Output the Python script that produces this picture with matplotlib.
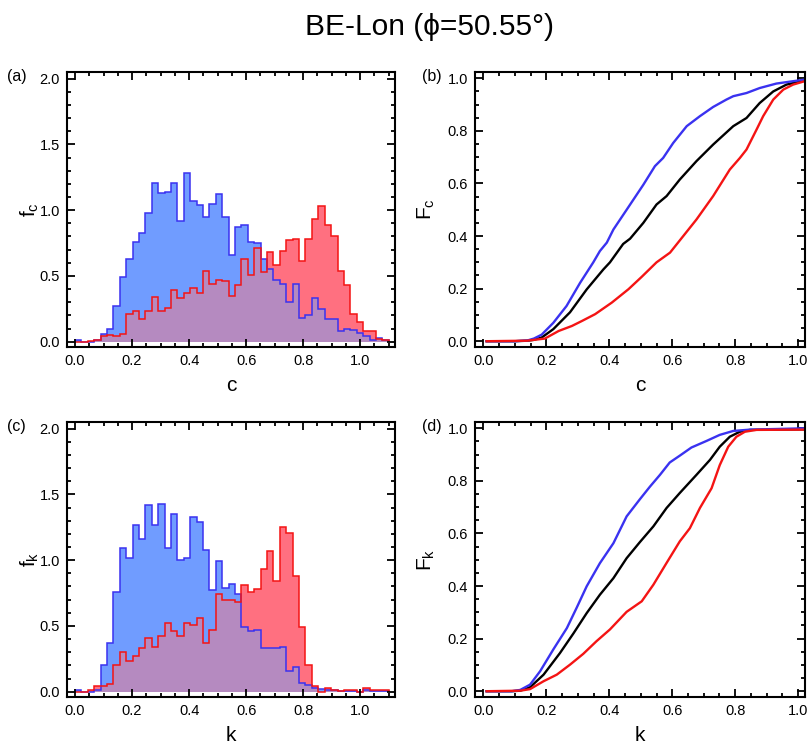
import numpy as np
import matplotlib
matplotlib.use("Agg")
from matplotlib import pyplot as plt
from matplotlib.ticker import MultipleLocator

plt.rcParams['font.family'] = ['Liberation Sans', 'DejaVu Sans']
plt.rcParams['mathtext.fontset'] = 'custom'
plt.rcParams['mathtext.rm'] = 'Liberation Sans'
plt.rcParams['mathtext.it'] = 'Liberation Sans'

# histogram bins (49 bins over 0 .. 1.1)
edges = np.linspace(0.0, 1.1, 50)

# (a) distribution of c
fc_blue = [0.01, 0.0, 0.0, 0.015, 0.06, 0.10, 0.27, 0.49, 0.63, 0.76, 0.83, 0.98,
           1.21, 1.13, 1.14, 1.21, 0.92, 1.28, 1.07, 1.04, 0.95, 1.05, 1.12, 0.95,
           0.66, 0.87, 0.89, 0.76, 0.75, 0.63, 0.55, 0.47, 0.44, 0.30, 0.44, 0.18,
           0.20, 0.33, 0.25, 0.17, 0.17, 0.08, 0.10, 0.09, 0.07, 0.04, 0.01, 0.025, 0.01]
fc_red = [0.0, 0.0, 0.005, 0.01, 0.04, 0.05, 0.04, 0.06, 0.21, 0.23, 0.17, 0.23,
          0.34, 0.23, 0.26, 0.39, 0.33, 0.37, 0.41, 0.37, 0.54, 0.44, 0.47, 0.46,
          0.35, 0.43, 0.63, 0.51, 0.71, 0.53, 0.68, 0.58, 0.69, 0.77, 0.78, 0.61,
          0.78, 0.93, 1.03, 0.89, 0.80, 0.54, 0.43, 0.21, 0.15, 0.08, 0.08, 0.02, 0.01]

# (c) distribution of k
fk_blue = [0.01, 0.0, 0.0, 0.01, 0.20, 0.37, 0.76, 1.09, 1.02, 1.27, 1.16, 1.42,
           1.27, 1.43, 1.09, 1.35, 1.00, 1.02, 1.33, 1.29, 1.08, 0.77, 0.99, 0.79,
           0.82, 0.74, 0.49, 0.46, 0.47, 0.33, 0.33, 0.33, 0.34, 0.155, 0.19, 0.07,
           0.05, 0.025, 0.02, 0.01, 0.01, 0.005, 0.005, 0.005, 0.0, 0.015, 0.005, 0.005, 0.005]
fk_red = [0.0, 0.0, 0.01, 0.04, 0.045, 0.06, 0.20, 0.30, 0.23, 0.27, 0.33, 0.41,
          0.34, 0.42, 0.52, 0.46, 0.42, 0.52, 0.51, 0.56, 0.37, 0.47, 0.74, 0.70,
          0.70, 0.68, 0.81, 0.76, 0.78, 0.93, 1.07, 0.84, 1.25, 1.21, 0.88, 0.49,
          0.20, 0.04, 0.0, 0.025, 0.01, 0.005, 0.01, 0.01, 0.0, 0.025, 0.01, 0.01, 0.01]

# (b) cumulative distributions of c
Fc_blue_x = [0.01, 0.10, 0.14, 0.16, 0.185, 0.222, 0.264, 0.307, 0.349, 0.37, 0.392, 0.413,
             0.455, 0.508, 0.545, 0.571, 0.603, 0.646, 0.688, 0.73, 0.772, 0.794, 0.836,
             0.878, 0.931, 0.984, 1.021]
Fc_blue_y = [0.0, 0.0, 0.003, 0.01, 0.025, 0.07, 0.134, 0.222, 0.30, 0.343, 0.375, 0.425,
             0.50, 0.595, 0.666, 0.697, 0.754, 0.818, 0.856, 0.891, 0.919, 0.932, 0.944,
             0.963, 0.98, 0.989, 0.995]
Fc_black_x = [0.01, 0.10, 0.14, 0.159, 0.185, 0.222, 0.275, 0.328, 0.381, 0.402, 0.444,
              0.466, 0.508, 0.55, 0.582, 0.624, 0.677, 0.73, 0.794, 0.836, 0.878, 0.921,
              0.963, 1.021]
Fc_black_y = [0.0, 0.0, 0.002, 0.005, 0.014, 0.046, 0.11, 0.197, 0.273, 0.30, 0.37,
              0.39, 0.45, 0.52, 0.552, 0.615, 0.685, 0.748, 0.818, 0.849, 0.906, 0.95,
              0.976, 0.992]
Fc_red_x = [0.01, 0.138, 0.195, 0.239, 0.281, 0.313, 0.355, 0.408, 0.461, 0.503, 0.55,
            0.593, 0.635, 0.677, 0.73, 0.783, 0.815, 0.836, 0.868, 0.889, 0.921, 0.953,
            0.984, 1.021]
Fc_red_y = [0.0, 0.002, 0.01, 0.039, 0.058, 0.077, 0.103, 0.147, 0.198, 0.245, 0.30,
            0.337, 0.40, 0.463, 0.552, 0.653, 0.697, 0.729, 0.805, 0.856, 0.919, 0.957,
            0.976, 0.989]

# (d) cumulative distributions of k
Fk_blue_x = [0.01, 0.09, 0.117, 0.148, 0.18, 0.222, 0.265, 0.296, 0.328, 0.37, 0.413,
             0.455, 0.497, 0.529, 0.561, 0.592, 0.624, 0.661, 0.709, 0.751, 0.794, 0.847, 1.021]
Fk_blue_y = [0.0, 0.0, 0.005, 0.025, 0.076, 0.159, 0.24, 0.317, 0.399, 0.487, 0.563,
             0.665, 0.73, 0.778, 0.823, 0.87, 0.896, 0.927, 0.952, 0.975, 0.99, 0.995, 1.0]
Fk_black_x = [0.01, 0.09, 0.117, 0.148, 0.191, 0.243, 0.286, 0.328, 0.37, 0.413, 0.455,
              0.497, 0.54, 0.582, 0.624, 0.677, 0.72, 0.751, 0.783, 0.815, 0.847, 1.021]
Fk_black_y = [0.0, 0.0, 0.002, 0.015, 0.063, 0.145, 0.22, 0.297, 0.367, 0.43, 0.506,
              0.567, 0.627, 0.697, 0.754, 0.823, 0.88, 0.93, 0.968, 0.987, 0.994, 0.996]
Fk_red_x = [0.01, 0.117, 0.148, 0.191, 0.233, 0.275, 0.317, 0.359, 0.402, 0.455, 0.503,
            0.54, 0.582, 0.624, 0.656, 0.688, 0.725, 0.751, 0.778, 0.804, 0.831, 0.868, 1.021]
Fk_red_y = [0.0, 0.002, 0.008, 0.038, 0.063, 0.101, 0.142, 0.19, 0.235, 0.302, 0.342,
            0.405, 0.488, 0.57, 0.62, 0.697, 0.772, 0.86, 0.93, 0.968, 0.987, 0.994, 0.995]

title = "BE-Lon (\u03d5=50.55\u00b0)"

BLUE_FILL = '#709cff'
RED_FILL = '#ff7080'
MIX_FILL = '#b58ac0'
BLUE_LINE = '#3a32f0'
RED_LINE = '#f41414'

W, H = 810, 747
fig = plt.figure(figsize=(W / 100, H / 100), dpi=100)


def rect(l, t, r, b):
    return [l / W, 1 - b / H, (r - l) / W, (b - t) / H]


def style(ax, xmaj, xmin, ymaj, ymin):
    ax.xaxis.set_major_locator(MultipleLocator(xmaj))
    ax.xaxis.set_minor_locator(MultipleLocator(xmin))
    ax.yaxis.set_major_locator(MultipleLocator(ymaj))
    ax.yaxis.set_minor_locator(MultipleLocator(ymin))
    ax.xaxis.set_major_formatter('{x:.1f}')
    ax.yaxis.set_major_formatter('{x:.1f}')
    ax.tick_params(which='both', direction='in', top=True, right=True,
                   width=1.3, labelsize=10.5, pad=5)
    ax.tick_params(which='major', length=6)
    ax.tick_params(which='minor', length=3)
    for s in ax.spines.values():
        s.set_linewidth(1.5)


def hist_panel(ax, blue, red, xl, yl):
    blue = np.array(blue)
    red = np.array(red)
    ax.stairs(blue, edges, fill=True, color=BLUE_FILL, lw=0)
    ax.stairs(red, edges, fill=True, color=RED_FILL, lw=0)
    ax.stairs(np.minimum(blue, red), edges, fill=True, color=MIX_FILL, lw=0)
    ax.stairs(blue, edges, color=BLUE_LINE, lw=1.1)
    ax.stairs(red, edges, color=RED_LINE, lw=1.1)
    ax.set_xlim(-0.028, 1.122)
    ax.set_ylim(-0.04, 2.05)
    style(ax, 0.2, 0.05, 0.5, 0.1)
    ax.set_xlabel(xl, fontsize=15)
    ax.set_ylabel(yl, fontsize=15)
    ax.xaxis.set_label_coords(0.5, -0.105)
    ax.yaxis.set_label_coords(-0.078, 0.5)


def cdf_panel(ax, curves, xl, yl):
    for xs, ys, col in curves:
        ax.plot(xs, ys, color=col, lw=1.7)
    ax.set_xlim(-0.027, 1.022)
    ax.set_ylim(-0.022, 1.024)
    style(ax, 0.2, 0.05, 0.2, 0.05)
    ax.set_xlabel(xl, fontsize=15)
    ax.set_ylabel(yl, fontsize=15)
    ax.xaxis.set_label_coords(0.5, -0.105)
    ax.yaxis.set_label_coords(-0.115, 0.5)


ax_a = fig.add_axes(rect(67, 72, 395, 347))
ax_b = fig.add_axes(rect(475, 72, 805, 347))
ax_c = fig.add_axes(rect(67, 422, 395, 697))
ax_d = fig.add_axes(rect(475, 422, 805, 697))

hist_panel(ax_a, fc_blue, fc_red, 'c', r'$\mathregular{f_c}$')
hist_panel(ax_c, fk_blue, fk_red, 'k', r'$\mathregular{f_k}$')
cdf_panel(ax_b, [(Fc_black_x, Fc_black_y, 'black'),
                 (Fc_blue_x, Fc_blue_y, BLUE_LINE),
                 (Fc_red_x, Fc_red_y, RED_LINE)], 'c', r'$\mathregular{F_c}$')
cdf_panel(ax_d, [(Fk_black_x, Fk_black_y, 'black'),
                 (Fk_blue_x, Fk_blue_y, BLUE_LINE),
                 (Fk_red_x, Fk_red_y, RED_LINE)], 'k', r'$\mathregular{F_k}$')

for lab, x, y in [('(a)', 7, 77), ('(b)', 422, 77), ('(c)', 7, 427), ('(d)', 422, 427)]:
    fig.text(x / W, 1 - y / H, lab, fontsize=11.5, ha='left', va='center')

fig.text(429 / W, 1 - 27 / H, title, fontsize=21.5, ha='center', va='center')

fig.savefig('out.png', dpi=100)
